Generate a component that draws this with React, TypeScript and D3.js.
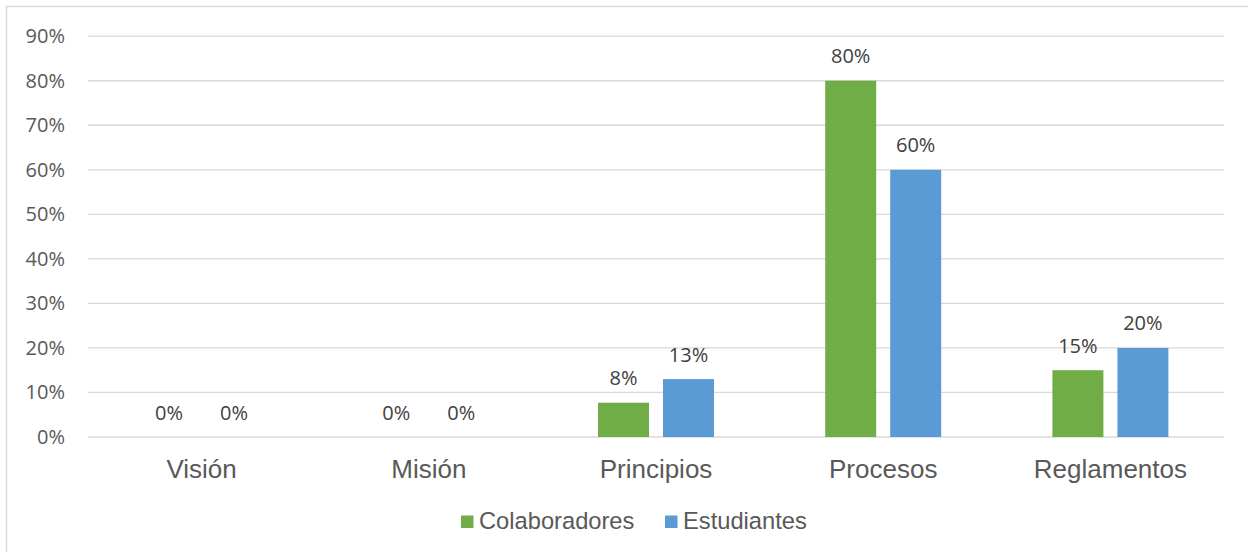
import { useEffect, useRef } from "react";
import * as d3 from "d3";

const CATEGORIES = ["Visión", "Misión", "Principios", "Procesos", "Reglamentos"];
const SERIES = ["Colaboradores", "Estudiantes"];
const COLABORADORES = [0, 0, 0.077, 0.8, 0.15];
const ESTUDIANTES = [0, 0, 0.13, 0.6, 0.2];
const LABELS_COL = ["0%", "0%", "8%", "80%", "15%"];
const LABELS_EST = ["0%", "0%", "13%", "60%", "20%"];
const TICKS = [0, 0.1, 0.2, 0.3, 0.4, 0.5, 0.6, 0.7, 0.8, 0.9];

const COLORS: Record<string, string> = { Colaboradores: "#70AD47", Estudiantes: "#5B9BD5" };

export default function App() {
  const ref = useRef<SVGSVGElement>(null);
  useEffect(() => {
    const el = ref.current;
    if (!el) return;
    const W = 1248, H = 552;
    const svg = d3.select(el).attr("width", W).attr("height", H);
    svg.selectAll("*").remove();

    // chart border (only top & left visible in frame)
    svg.append("rect").attr("x", 6.5).attr("y", 6.5).attr("width", W + 20).attr("height", H + 20)
      .attr("fill", "#fff").attr("stroke", "#D9D9D9").attr("stroke-width", 1.5);

    const L = 88, R = 1224;
    const y = d3.scaleLinear().domain([0, 0.9]).range([437, 36.2]);
    const x0 = d3.scaleBand<string>().domain(CATEGORIES).range([L, R]);
    const x1 = d3.scaleBand<string>().domain(SERIES).range([0, x0.bandwidth()])
      .paddingInner(14 / 65).paddingOuter(0.8557);

    // gridlines + tick labels
    TICKS.forEach((t) => {
      svg.append("line").attr("x1", L).attr("x2", R).attr("y1", y(t)).attr("y2", y(t))
        .attr("stroke", "#D9D9D9").attr("stroke-width", 1.3);
      svg.append("text").attr("x", 65).attr("y", y(t) + 7).attr("text-anchor", "end")
        .attr("fill", "#595959").attr("font-size", 20).attr("font-family", "'Open Sans', sans-serif")
        .text(d3.format(".0%")(t));
    });

    const data = [
      { s: "Colaboradores", vals: COLABORADORES, labels: LABELS_COL },
      { s: "Estudiantes", vals: ESTUDIANTES, labels: LABELS_EST },
    ];
    data.forEach((d) => {
      CATEGORIES.forEach((c, i) => {
        const bx = (x0(c) ?? 0) + (x1(d.s) ?? 0);
        const top = y(d.vals[i]);
        if (d.vals[i] > 0) {
          svg.append("rect").attr("x", bx).attr("y", top).attr("width", x1.bandwidth())
            .attr("height", y(0) - top).attr("fill", COLORS[d.s]);
        }
        svg.append("text").attr("x", bx + x1.bandwidth() / 2).attr("y", top - 17.5)
          .attr("text-anchor", "middle").attr("fill", "#404040").attr("font-size", 20)
          .attr("font-family", "'Open Sans', sans-serif").text(d.labels[i]);
      });
    });

    // category labels
    CATEGORIES.forEach((c) => {
      svg.append("text").attr("x", (x0(c) ?? 0) + x0.bandwidth() / 2).attr("y", 478)
        .attr("text-anchor", "middle").attr("fill", "#595959").attr("font-size", 26)
        .attr("font-family", "'Liberation Sans', Arial, sans-serif").text(c);
    });

    // legend
    const legendX = [461, 665];
    SERIES.forEach((s, i) => {
      svg.append("rect").attr("x", legendX[i]).attr("y", 515.5).attr("width", 12.5).attr("height", 12.5)
        .attr("fill", COLORS[s]);
      svg.append("text").attr("x", legendX[i] + 18).attr("y", 529).attr("fill", "#595959")
        .attr("font-size", 23.7).attr("font-family", "'Liberation Sans', Arial, sans-serif").text(s);
    });
  }, []);
  return (
    <svg ref={ref} style={{ position: "absolute", left: 0, top: 0, display: "block" }} />
  );
}
